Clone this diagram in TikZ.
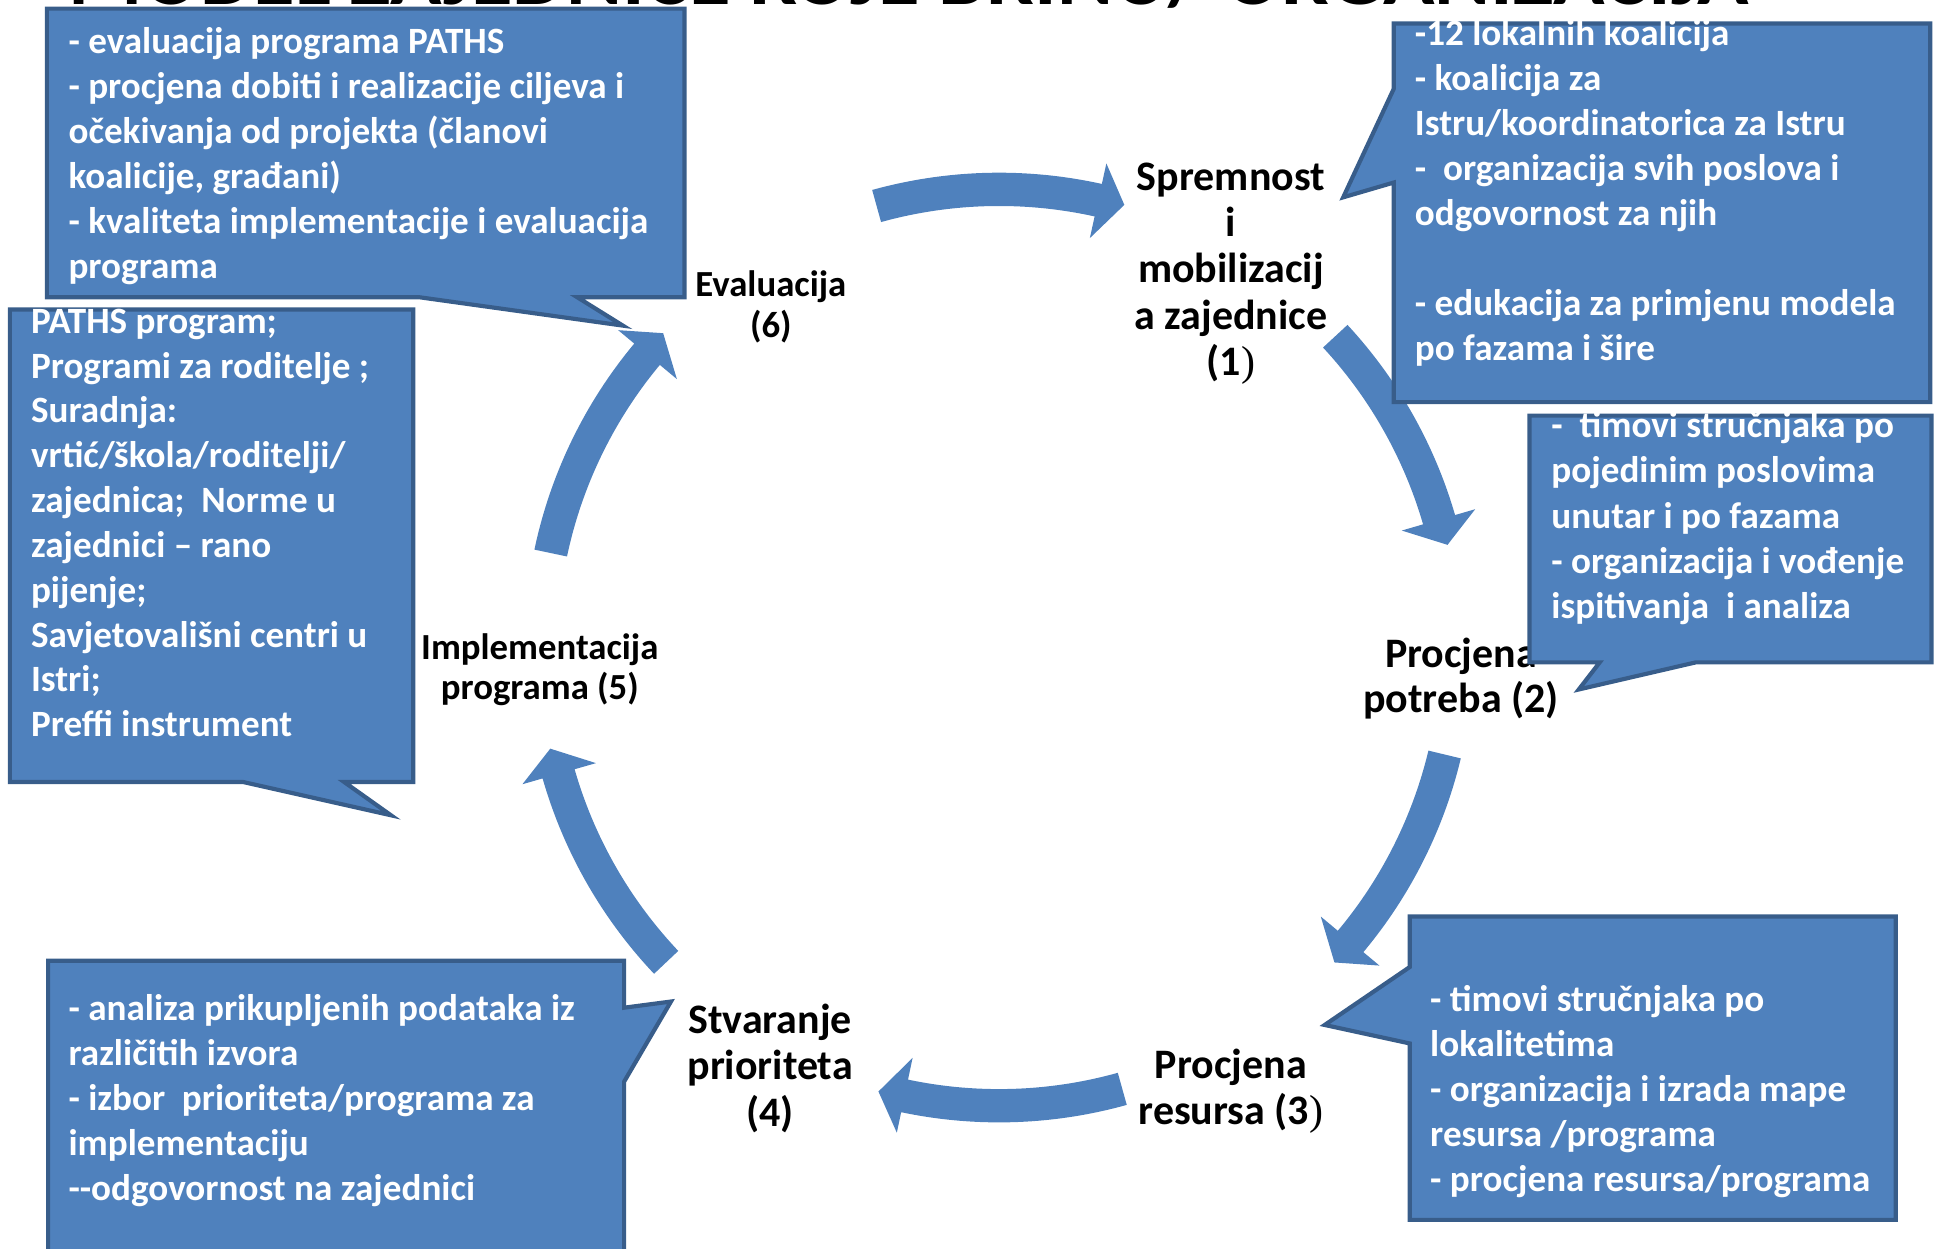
\documentclass[tikz,border=0pt]{standalone}
\usepackage{fontspec}
\setmainfont{Carlito}
\newfontfamily\thinserif{Liberation Serif}
\definecolor{boxfill}{HTML}{4F81BD}
\definecolor{boxline}{HTML}{385D8A}
\definecolor{arrowfill}{HTML}{4F81BD}
\tikzset{
  callout/.style={fill=boxfill, draw=boxline, line width=1.2pt, line join=miter},
  cyc/.style={fill=arrowfill},
  boxtxt/.style={anchor=base west, inner sep=0pt, text=white, font=\fontsize{10.7}{12.9}\selectfont\bfseries},
  biglbl/.style={anchor=base, inner sep=0pt, font=\fontsize{12.1}{14}\selectfont\bfseries},
  smalllbl/.style={anchor=base, inner sep=0pt, font=\fontsize{10.6}{12}\selectfont\bfseries},
}
\begin{document}
\begin{tikzpicture}[x=0.0125cm, y=-0.0125cm]
\useasboundingbox (0,0) rectangle (1568,1012);
\clip (0,0) rectangle (1568,1012);

\node[anchor=base west, inner sep=0pt, font=\fontsize{24.5}{28}\selectfont\bfseries] (title) at (55,4) {MODEL ZAJEDNICE KOJE BRINU/ ORGANIZACIJA};

\begin{scope}[shift={(810,525)}, x=0.0125cm, y=0.0125cm]
\fill[cyc] (105.5:385) arc[start angle=105.5, end angle=77.5, radius=385] -- (77.5:402) -- (74.2:373) -- (77.5:340) -- (77.5:358) arc[start angle=77.5, end angle=105.5, radius=358] -- cycle;
\fill[cyc] (42.8:385) arc[start angle=42.8, end angle=16.2, radius=385] -- (16.2:402) -- (12.9:373) -- (16.2:340) -- (16.2:358) arc[start angle=16.2, end angle=42.8, radius=358] -- cycle;
\fill[cyc] (-13.5:385) arc[start angle=-13.5, end angle=-39.9, radius=385] -- (-39.9:402) -- (-43.2:373) -- (-39.9:340) -- (-39.9:358) arc[start angle=-39.9, end angle=-13.5, radius=358] -- cycle;
\fill[cyc] (-74.4:385) arc[start angle=-74.4, end angle=-101.9, radius=385] -- (-101.9:402) -- (-105.2:373) -- (-101.9:340) -- (-101.9:358) arc[start angle=-101.9, end angle=-74.4, radius=358] -- cycle;
\fill[cyc] (-136.6:385) arc[start angle=-136.6, end angle=-164, radius=385] -- (-164:402) -- (-167.3:373) -- (-164:340) -- (-164:358) arc[start angle=-164, end angle=-136.6, radius=358] -- cycle;
\fill[cyc] (168.1:385) arc[start angle=168.1, end angle=140.2, radius=385] -- (140.2:402) -- (136.9:373) -- (140.2:340) -- (140.2:358) arc[start angle=140.2, end angle=168.1, radius=358] -- cycle;
\end{scope}

% phase labels
\node[biglbl] (lA0) at (998,154.6) {Spremnost};
\node[biglbl] (lA1) at (998,192.0) {i};
\node[biglbl] (lA2) at (998,229.4) {mobilizacij};
\node[biglbl] (lA3) at (998,266.8) {a zajednice};
\node[biglbl] (lA4) at (998,304.2) {(1{\thinserif\mdseries )}};
\node[biglbl] (lB0) at (1184.5,541.3) {Procjena};
\node[biglbl] (lB1) at (1184.5,578.0) {potreba (2)};
\node[biglbl] (lC0) at (998,874.3) {Procjena};
\node[biglbl] (lC1) at (998,912.1) {resursa (3{\thinserif\mdseries )}};
\node[biglbl] (lD0) at (624.4,837.8) {Stvaranje};
\node[biglbl] (lD1) at (624.4,875.6) {prioriteta};
\node[biglbl] (lD2) at (624.4,913.4) {(4)};
\node[smalllbl] (lE0) at (437.7,534.6) {Implementacija};
\node[smalllbl] (lE1) at (437.7,567.2) {programa (5)};
\node[smalllbl] (lF0) at (625,240.5) {Evaluacija};
\node[smalllbl] (lF1) at (625,274.0) {(6)};

% callout boxes
\draw[callout] (38,7) -- (555,7) -- (555,241) -- (468,241) -- (505,264) -- (340,241) -- (38,241) -- cycle;
\draw[callout] (1130,19) -- (1565,19) -- (1565,326) -- (1130,326) -- (1130,148) -- (1089,160) -- (1130,72) -- cycle;
\draw[callout] (1240,337) -- (1566,337) -- (1566,537) -- (1375,537) -- (1280,559) -- (1297,537) -- (1240,537) -- cycle;
\draw[callout] (8,251) -- (335,251) -- (335,634) -- (279,634) -- (317,661) -- (197,634) -- (8,634) -- cycle;
\draw[callout] (39,779) -- (506,779) -- (506,817) -- (544,812) -- (506,877) -- (506,1030) -- (39,1030) -- cycle;
\draw[callout] (1143,743) -- (1537,743) -- (1537,989) -- (1143,989) -- (1143,846) -- (1074,831) -- (1143,784) -- cycle;

% box A
\node[boxtxt] (tA0) at (55,43) {- evaluacija programa PATHS};
\node[boxtxt] (tA1) at (55,79.5) {- procjena dobiti i realizacije ciljeva i};
\node[boxtxt] (tA2) at (55,116) {očekivanja od projekta (članovi};
\node[boxtxt] (tA3) at (55,152.5) {koalicije, građani)};
\node[boxtxt] (tA4) at (55,189) {- kvaliteta implementacije i evaluacija};
\node[boxtxt] (tA5) at (55,225.5) {programa};
% box B
\node[boxtxt] (tB0) at (1146.6,37) {-12 lokalnih koalicija};
\node[boxtxt] (tB1) at (1146.6,73.5) {- koalicija za};
\node[boxtxt] (tB2) at (1146.6,110) {Istru/koordinatorica za Istru};
\node[boxtxt] (tB3) at (1146.6,146.5) {-\ \ organizacija svih poslova i};
\node[boxtxt] (tB4) at (1146.6,183) {odgovornost za njih};
\node[boxtxt] (tB6) at (1146.6,256) {- edukacija za primjenu modela};
\node[boxtxt] (tB7) at (1146.6,292.5) {po fazama i šire};
% box C
\node[boxtxt] (tC0) at (1257.3,354.5) {-\ \ timovi stručnjaka po};
\node[boxtxt] (tC1) at (1257.3,391.3) {pojedinim poslovima};
\node[boxtxt] (tC2) at (1257.3,428.1) {unutar i po fazama};
\node[boxtxt] (tC3) at (1257.3,464.9) {- organizacija i vođenje};
\node[boxtxt] (tC4) at (1257.3,501.7) {ispitivanja\ \ i analiza};
% box D
\node[boxtxt] (tD0) at (24.6,270.2) {PATHS program;};
\node[boxtxt] (tD1) at (24.6,306.55) {Programi za roditelje ;};
\node[boxtxt] (tD2) at (24.6,342.9) {Suradnja:};
\node[boxtxt] (tD3) at (24.6,379.25) {vrtić/škola/roditelji/};
\node[boxtxt] (tD4) at (24.6,415.6) {zajednica;\ \ Norme u};
\node[boxtxt] (tD5) at (24.6,451.95) {zajednici – rano};
\node[boxtxt] (tD6) at (24.6,488.3) {pijenje;};
\node[boxtxt] (tD7) at (24.6,524.65) {Savjetovališni centri u};
\node[boxtxt] (tD8) at (24.6,561) {Istri;};
\node[boxtxt] (tD9) at (24.6,597.35) {Preffi instrument};
% box E
\node[boxtxt] (tE0) at (55,827) {- analiza prikupljenih podataka iz};
\node[boxtxt] (tE1) at (55,863.5) {različitih izvora};
\node[boxtxt] (tE2) at (55,900) {- izbor\ \ prioriteta/programa za};
\node[boxtxt] (tE3) at (55,936.5) {implementaciju};
\node[boxtxt] (tE4) at (55,973) {-{}-odgovornost na zajednici};
% box F
\node[boxtxt] (tF0) at (1159,820.2) {- timovi stručnjaka po};
\node[boxtxt] (tF1) at (1159,856.7) {lokalitetima};
\node[boxtxt] (tF2) at (1159,893.2) {- organizacija i izrada mape};
\node[boxtxt] (tF3) at (1159,929.7) {resursa /programa};
\node[boxtxt] (tF4) at (1159,966.2) {- procjena resursa/programa};
\end{tikzpicture}
\end{document}
